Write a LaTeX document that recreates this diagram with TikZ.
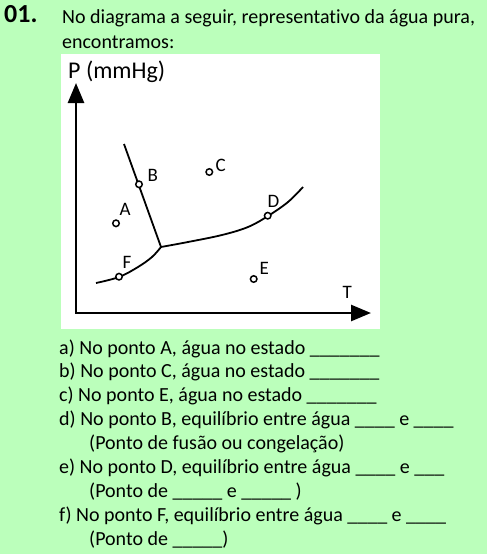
\documentclass[tikz,border=0pt]{standalone}
\usepackage{fontspec}
\setmainfont{Carlito}[Ligatures=NoCommon]
\usetikzlibrary{arrows.meta}
\definecolor{bg}{RGB}{187,255,187}
\begin{document}
\begin{tikzpicture}[x=1pt,y=-1pt,
  txt/.style={anchor=base west,inner sep=0pt,font=\fontsize{20}{24}\selectfont},
  lbl/.style={anchor=base west,inner sep=0pt,font=\fontsize{19}{22}\selectfont},
  ptc/.style={circle,draw,line width=1.5pt,fill=white,minimum size=6.5pt,inner sep=0pt},
  axis/.style={line width=2.6pt,{Triangle[length=20pt,width=16pt]}-{Triangle[length=20pt,width=16pt]}},
  curve/.style={line width=1.8pt}]
\fill[bg] (0,0) rectangle (487,554);
\useasboundingbox (0,0) rectangle (487,554);
\fill[white] (61,54) rectangle (380,329);
% header
\node[anchor=base west,inner sep=0pt,font=\fontsize{26}{30}\selectfont\bfseries] (num) at (4,23) {01.};
\node[txt] (h1) at (62,23.5) {No diagrama a seguir, representativo da água pura,};
\node[txt] (h2) at (62,48.5) {encontramos:};
% axes
\coordinate (O) at (76,313);
\coordinate (Ptop) at (76,83);
\coordinate (Tend) at (371,313);
\draw[axis] (Ptop) -- (O) -- (Tend);
\node[anchor=base west,inner sep=0pt,font=\fontsize{24}{28}\selectfont] (Plab) at (68,78.5) {P (mmHg)};
\node[lbl] (Tlab) at (342.5,298.5) {T};
% curves
\coordinate (tp) at (161,247);
\coordinate (fus) at (124,144);
\draw[curve] (fus) -- (tp);
\draw[curve] plot[smooth,tension=0.6] coordinates {(tp) (188,242) (222,235) (248,227) (268,216) (288,202) (303,187)};
\draw[curve] plot[smooth,tension=0.6] coordinates {(96,283) (119,277) (138,267) (152,257) (tp)};
% points
\node[ptc] (A) at (116,223.3) {};
\node[ptc] (B) at (139,184.3) {};
\node[ptc] (C) at (209.3,172) {};
\node[ptc] (D) at (267.7,215.7) {};
\node[ptc] (E) at (253.7,279) {};
\node[ptc] (F) at (119,276.7) {};
\node[lbl] (lA) at (119.5,215.5) {A};
\node[lbl] (lB) at (147.5,181.5) {B};
\node[lbl] (lC) at (215.5,171) {C};
\node[lbl] (lD) at (267.5,207) {D};
\node[lbl] (lE) at (259.5,274.5) {E};
\node[lbl] (lF) at (122.5,268) {F};
% questions
\node[txt] (qa) at (59,354) {a) No ponto A, água no estado \_\_\_\_\_\_\_};
\node[txt] (qb) at (59,377.9) {b) No ponto C, água no estado \_\_\_\_\_\_\_};
\node[txt] (qc) at (59,401.8) {c) No ponto E, água no estado \_\_\_\_\_\_\_};
\node[txt] (qd) at (59,425.7) {d) No ponto B, equilíbrio entre água \_\_\_\_ e \_\_\_\_};
\node[txt] (qd2) at (89,449.6) {(Ponto de fusão ou congelação)};
\node[txt] (qe) at (59,473.5) {e) No ponto D, equilíbrio entre água \_\_\_\_ e \_\_\_};
\node[txt] (qe2) at (89,497.4) {(Ponto de \_\_\_\_\_ e \_\_\_\_\_ )};
\node[txt] (qf) at (59,521.3) {f) No ponto F, equilíbrio entre água \_\_\_\_ e \_\_\_\_};
\node[txt] (qf2) at (89,545.2) {(Ponto de \_\_\_\_\_)};
\end{tikzpicture}
\end{document}
